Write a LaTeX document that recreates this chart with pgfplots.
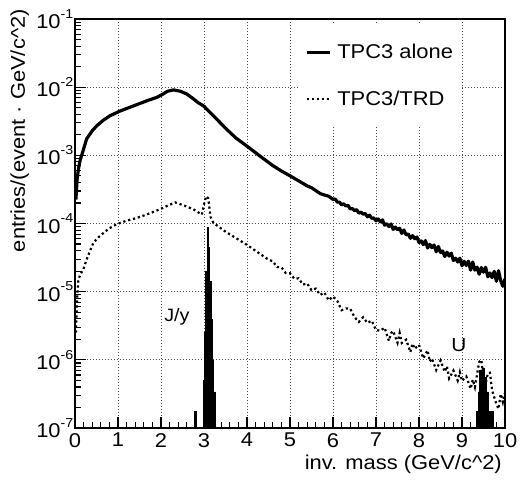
\documentclass[border=0pt]{standalone}
\usepackage{fontspec}
\setmainfont{Liberation Sans}[FakeStretch=1.1]
\usepackage{pgfplots}
\pgfplotsset{compat=1.18}
\newcommand{\ff}{\fontsize{20}{24}\selectfont}
\newcommand{\ex}[1]{10\raisebox{0.52em}{\fontsize{13}{13}\selectfont #1}}
\begin{document}
\begin{tikzpicture}
\useasboundingbox (-75bp,-52bp) rectangle (445bp,428bp);
\begin{axis}[
  scale only axis, width=430bp, height=409bp,
  at={(0,0)}, anchor=south west,
  xmin=0, xmax=10, ymin=1e-7, ymax=1e-1, ymode=log,
  xtick={0,1,2,3,4,5,6,7,8,9,10},
  xticklabels={0,1,2,3,4,5,6,7,8,9,10},
  minor x tick num=4,
  ytick={1e-7,1e-6,1e-5,1e-4,1e-3,1e-2,1e-1},
  yticklabels={\ex{-7},\ex{-6},\ex{-5},\ex{-4},\ex{-3},\ex{-2},\ex{-1}},
  xtick pos=bottom, ytick pos=left,
  tick align=inside,
  major tick length=11bp, minor tick length=6bp,
  tick style={black, line width=1.1bp},
  axis line style={line width=1.6bp},
  grid=major,
  major grid style={black!70, line width=0.7bp, dash pattern=on 0.8bp off 2.2bp},
  tick label style={font=\ff},
  yticklabel style={inner xsep=1.5bp},
  xticklabel style={inner ysep=0bp, yshift=-5bp},
  label style={font=\ff},
  xlabel={inv. mass (GeV/c\textasciicircum 2)},
  ylabel={entries/(event · GeV/c\textasciicircum 2)},
  xlabel style={at={([xshift=-3bp,yshift=-41bp]axis description cs:1,0)}, anchor=base east, inner sep=0pt},
  ylabel style={at={([xshift=-50bp,yshift=10bp]axis description cs:0,1)}, anchor=base east, inner sep=0pt},
  legend style={at={(0.523,0.985)}, anchor=north west, draw=none, fill=white,
    font=\ff, row sep=27bp, inner xsep=5bp, inner ysep=17bp, nodes={inner sep=2bp},
    legend cell align=left},
  /tikz/every odd column/.append style={column sep=4bp},
  legend image code/.code={\draw[#1] (0bp,0bp) -- (23bp,0bp);},
]
% TPC3 alone
\addplot[black, line width=3.2bp, line join=round] coordinates {
(0.02,2.24e-4) (0.05,4.47e-4) (0.08,6.31e-4) (0.12,8.51e-4) (0.16,1.02e-3)
(0.27,1.74e-3) (0.4,2.29e-3) (0.5,2.69e-3) (0.65,3.24e-3) (0.81,3.80e-3)
(1.05,4.47e-3) (1.36,5.31e-3) (1.67,6.31e-3) (1.9,7.08e-3) (2.05,7.94e-3)
(2.15,8.71e-3) (2.29,9.12e-3) (2.45,8.71e-3) (2.6,7.94e-3) (2.75,6.76e-3)
(2.87,5.89e-3) (3.0,5.25e-3) (3.25,3.63e-3) (3.53,2.40e-3) (3.75,1.78e-3)
(3.99,1.38e-3) (4.3,9.77e-4) (4.6,7.08e-4) (4.8,5.89e-4)
(5.0,5.01e-4) (5.2,4.23e-4) (5.4,3.56e-4) (5.5,3.35e-4) (5.6,3.04e-4)
(5.7,2.75e-4) (5.8,2.62e-4) (5.9,2.51e-4) (6.0,2.26e-4)
(6.05,2.288e-4) (6.10,2.06e-4) (6.15,2.06e-4) (6.20,1.875e-4) (6.25,1.948e-4)
(6.30,1.81e-4) (6.35,1.847e-4) (6.40,1.64e-4) (6.45,1.657e-4) (6.50,1.542e-4)
(6.55,1.60e-4) (6.60,1.419e-4) (6.65,1.466e-4) (6.70,1.374e-4) (6.75,1.40e-4)
(6.80,1.253e-4) (6.85,1.324e-4) (6.90,1.197e-4) (6.95,1.202e-4) (7.00,1.096e-4)
(7.05,1.167e-4) (7.10,1.059e-4) (7.15,1.130e-4) (7.20,9.46e-5) (7.25,9.93e-5)
(7.30,9.02e-5) (7.35,9.85e-5) (7.40,8.18e-5) (7.45,8.87e-5) (7.50,8.12e-5)
(7.55,8.53e-5) (7.60,7.15e-5) (7.65,8.02e-5) (7.70,6.83e-5) (7.75,7.01e-5)
(7.80,6.07e-5) (7.85,6.64e-5) (7.90,5.98e-5) (7.95,6.34e-5) (8.00,5.27e-5)
(8.05,5.56e-5) (8.10,4.90e-5) (8.15,5.62e-5) (8.20,4.37e-5) (8.25,4.95e-5)
(8.30,4.42e-5) (8.35,4.84e-5) (8.40,3.85e-5) (8.45,4.62e-5) (8.50,3.76e-5)
(8.55,3.96e-5) (8.60,3.28e-5) (8.65,3.79e-5) (8.70,3.33e-5) (8.75,3.67e-5)
(8.80,2.87e-5) (8.85,3.10e-5) (8.90,2.72e-5) (8.95,3.10e-5) (9.00,2.40e-5)
(9.05,2.79e-5) (9.10,2.42e-5) (9.15,2.80e-5) (9.20,2.07e-5) (9.25,2.72e-5)
(9.30,2.07e-5) (9.35,2.29e-5) (9.40,1.80e-5) (9.45,2.26e-5) (9.50,1.93e-5)
(9.55,2.28e-5) (9.60,1.65e-5) (9.65,1.88e-5) (9.70,1.61e-5) (9.75,1.99e-5)
(9.80,1.42e-5) (9.85,2.03e-5) (9.90,1.45e-5) (9.95,1.20e-5) (10.0,1.55e-5)
};
\addlegendentry{TPC3 alone}
% TPC3/TRD
\addplot[black, line width=2.2bp, dash pattern=on 2.2bp off 2.8bp] coordinates {
(0.02,2.51e-6) (0.05,7.94e-6) (0.08,1.51e-5) (0.13,1.82e-5) (0.19,2.09e-5)
(0.27,2.95e-5) (0.35,3.98e-5) (0.43,5.25e-5) (0.55,6.31e-5) (0.66,7.24e-5)
(0.8,8.51e-5) (0.97,9.77e-5) (1.2,1.10e-4) (1.43,1.20e-4) (1.7,1.38e-4)
(1.98,1.62e-4) (2.15,1.82e-4) (2.33,2.04e-4) (2.55,1.82e-4) (2.75,1.62e-4)
(2.95,1.35e-4) (3.0,1.91e-4) (3.05,2.51e-4) (3.1,2.34e-4) (3.15,1.26e-4)
(3.22,1.02e-4) (3.5,7.59e-5) (3.99,4.90e-5) (4.5,2.95e-5)
(4.6,2.79e-5) (4.7,2.30e-5) (4.8,2.28e-5) (4.9,1.88e-5) (5.0,1.86e-5)
(5.1,1.55e-5) (5.2,1.57e-5) (5.3,1.27e-5) (5.4,1.32e-5) (5.5,1.05e-5)
(5.6,1.11e-5) (5.7,8.95e-6) (5.8,9.73e-6) (5.9,7.48e-6) (6.0,8.51e-6)
(6.1,7.31e-6) (6.2,5.35e-6) (6.3,5.68e-6) (6.4,5.62e-6) (6.5,4.23e-6)
(6.6,3.60e-6) (6.7,4.21e-6) (6.8,3.48e-6) (6.9,3.75e-6) (7.0,2.74e-6)
(7.1,2.67e-6) (7.2,2.96e-6) (7.3,1.90e-6) (7.35,2.46e-6) (7.4,2.65e-6)
(7.5,1.78e-6) (7.55,2.48e-6) (7.6,1.77e-6) (7.7,1.98e-6) (7.8,1.30e-6)
(7.85,1.73e-6) (7.9,1.45e-6) (8.0,1.66e-6) (8.1,1.05e-6) (8.2,1.38e-6)
(8.25,9.44e-7) (8.3,1.05e-6) (8.4,7.08e-7) (8.5,9.77e-7) (8.6,6.67e-7)
(8.65,8.05e-7) (8.7,5.35e-7) (8.8,6.95e-7) (8.9,4.97e-7) (8.95,6.58e-7)
(9.0,4.90e-7) (9.1,5.70e-7) (9.2,3.77e-7) (9.25,5.11e-7) (9.3,3.98e-7)
(9.4,9.33e-7) (9.45,1.00e-6) (9.5,5.25e-7) (9.55,4.47e-7) (9.6,6.31e-7)
(9.65,6.46e-7) (9.7,3.55e-7) (9.8,2.24e-7) (9.85,1.91e-7) (9.9,3.16e-7)
(9.95,2.40e-7) (10.0,3.31e-7)
};
\addlegendentry{TPC3/TRD}
% J/psi signal
\addplot[black, fill=black, line width=0.5bp, forget plot] coordinates {
(2.98,1e-8) (2.98,5.0e-7) (3.01,5.0e-7) (3.01,2.5e-6) (3.04,2.5e-6) (3.04,2.0e-5)
(3.07,2.0e-5) (3.07,8.7e-5) (3.10,8.7e-5) (3.10,4.5e-5) (3.13,4.5e-5) (3.13,1.4e-5)
(3.16,1.4e-5) (3.16,4.0e-6) (3.19,4.0e-6) (3.19,1.0e-6) (3.22,1.0e-6) (3.22,3.4e-7)
(3.25,3.4e-7) (3.25,1e-8)
} -- cycle;
\addplot[black, fill=black, line width=0.5bp, forget plot] coordinates {
(2.78,1e-8) (2.78,1.74e-7) (2.81,1.74e-7) (2.81,1e-8)
} -- cycle;
% Upsilon signal
\addplot[black, fill=black, line width=0.5bp, forget plot] coordinates {
(9.33,1e-8) (9.33,1.74e-7) (9.38,1.74e-7) (9.38,3.4e-7) (9.41,3.4e-7) (9.41,7.1e-7)
(9.46,7.1e-7) (9.46,7.6e-7) (9.51,7.6e-7) (9.51,5.6e-7) (9.56,5.6e-7) (9.56,3.4e-7)
(9.61,3.4e-7) (9.61,1.74e-7) (9.73,1.74e-7) (9.73,1e-8)
} -- cycle;
% zero-level histogram outline
\addplot[black, line width=2.4bp, forget plot] coordinates {(2.0,1e-7) (3.95,1e-7)};
\addplot[black, line width=2.4bp, forget plot] coordinates {(8.53,1e-7) (9.73,1e-7)};
\node[font=\fontsize{18}{20}\selectfont] at (axis cs:2.37,4.2e-6) {J/y};
\node[font=\fontsize{19}{21}\selectfont] at (axis cs:8.93,1.66e-6) {U};
\end{axis}
\end{tikzpicture}
\end{document}
